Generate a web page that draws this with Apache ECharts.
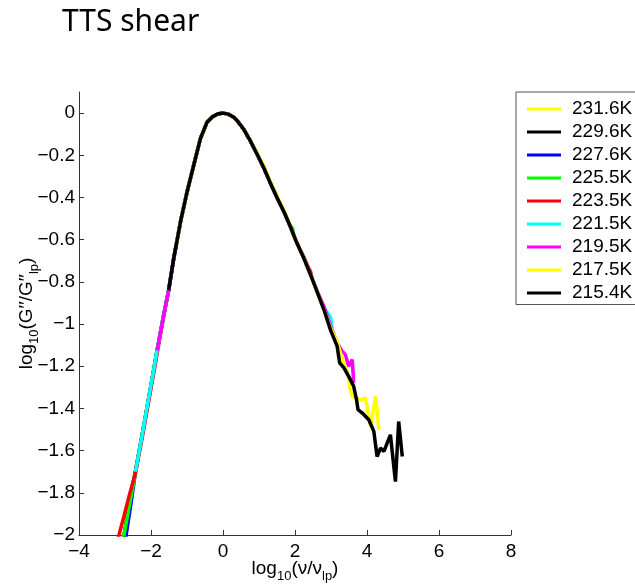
<!DOCTYPE html>
<html>
<head>
<meta charset="utf-8">
<script src="https://cdn.jsdelivr.net/npm/echarts@6/dist/echarts.min.js"></script>
<style>html,body{margin:0;padding:0;background:#fff;}#c{width:635px;height:584px;}</style>
</head>
<body>
<div id="c"></div>
<script>
// ---- data (x = log10(v/v_lp), y = log10(G''/G''_lp)) ----
const seriesNames = ['231.6K','229.6K','227.6K','225.5K','223.5K','221.5K','219.5K','217.5K','215.4K'];
const seriesColors = ['#ffff00','#000000','#0000ff','#00ff00','#ff0000','#00ffff','#ff00ff','#ffff00','#000000'];
const xTicks = [-4,-2,0,2,4,6,8];
const yTicks = [-2,-1.8,-1.6,-1.4,-1.2,-1,-0.8,-0.6,-0.4,-0.2,0];

const s231_6 = [[-3.3,-2.5],[-3.0,-2.22],[-2.75,-2.0],[-2.5,-1.76],[-2.25,-1.53],[-2.0,-1.29],[-1.83,-1.125],[-1.65,-0.96],[-1.51,-0.84],[-1.37,-0.69],[-1.18,-0.515],[-1.0,-0.375],[-0.81,-0.245],[-0.625,-0.12],[-0.44,-0.042],[-0.3,-0.018],[-0.15,-0.004],[0,0],[0.15,-0.005],[0.3,-0.02],[0.39,-0.035],[0.58,-0.078],[0.76,-0.132],[0.9,-0.18]];
const s229_6 = [[-3.2,-2.42],[-3.0,-2.22],[-2.75,-2.0],[-2.5,-1.76],[-2.25,-1.53],[-2.0,-1.29],[-1.83,-1.125],[-1.65,-0.96],[-1.51,-0.84],[-1.37,-0.69],[-1.18,-0.515],[-1.0,-0.375],[-0.81,-0.245],[-0.625,-0.12],[-0.44,-0.042],[-0.3,-0.018],[-0.15,-0.004],[0,0],[0.15,-0.005],[0.3,-0.02],[0.39,-0.035],[0.58,-0.078],[0.76,-0.132],[0.95,-0.195],[1.13,-0.258],[1.2,-0.285]];
const s227_6 = [[-2.85,-2.22],[-2.69,-2.0],[-2.6,-1.9],[-2.5,-1.785],[-2.43,-1.70],[-2.25,-1.53],[-2.0,-1.29],[-1.83,-1.125],[-1.65,-0.96],[-1.51,-0.84],[-1.37,-0.69],[-1.18,-0.515],[-1.0,-0.375],[-0.81,-0.245],[-0.625,-0.12],[-0.44,-0.042],[-0.3,-0.018],[-0.15,-0.004],[0,0],[0.15,-0.005],[0.3,-0.02],[0.39,-0.035],[0.58,-0.078],[0.76,-0.132],[0.95,-0.195],[1.13,-0.258],[1.3,-0.325],[1.5,-0.40],[1.6,-0.435]];
const s225_5 = [[-2.95,-2.2],[-2.75,-2.0],[-2.6,-1.86],[-2.5,-1.77],[-2.43,-1.70],[-2.25,-1.53],[-2.0,-1.29],[-1.83,-1.125],[-1.65,-0.96],[-1.51,-0.84],[-1.37,-0.69],[-1.18,-0.515],[-1.0,-0.375],[-0.81,-0.245],[-0.625,-0.12],[-0.44,-0.042],[-0.3,-0.018],[-0.15,-0.004],[0,0],[0.15,-0.005],[0.3,-0.02],[0.39,-0.035],[0.58,-0.078],[0.76,-0.132],[0.95,-0.195],[1.13,-0.258],[1.3,-0.325],[1.5,-0.40],[1.7,-0.47],[1.875,-0.535],[1.93,-0.545],[1.97,-0.58]];
const s223_5 = [[-3.05,-2.12],[-2.89,-2.0],[-2.75,-1.91],[-2.6,-1.81],[-2.43,-1.705],[-2.25,-1.545],[-2.0,-1.305],[-1.83,-1.14],[-1.65,-0.965],[-1.51,-0.84],[-1.37,-0.69],[-1.18,-0.515],[-1.0,-0.375],[-0.81,-0.245],[-0.625,-0.12],[-0.44,-0.042],[-0.3,-0.018],[-0.15,-0.004],[0,0],[0.15,-0.005],[0.3,-0.02],[0.39,-0.035],[0.58,-0.078],[0.76,-0.132],[0.95,-0.195],[1.13,-0.258],[1.3,-0.325],[1.5,-0.40],[1.7,-0.47],[1.875,-0.54],[2.05,-0.615],[2.24,-0.68],[2.38,-0.735],[2.43,-0.75],[2.48,-0.79]];
const s221_5 = [[-2.43,-1.70],[-2.25,-1.53],[-2.0,-1.29],[-1.83,-1.125],[-1.65,-0.96],[-1.51,-0.84],[-1.37,-0.69],[-1.18,-0.515],[-1.0,-0.375],[-0.81,-0.245],[-0.625,-0.12],[-0.44,-0.042],[-0.3,-0.018],[-0.15,-0.004],[0,0],[0.15,-0.005],[0.3,-0.02],[0.39,-0.035],[0.58,-0.078],[0.76,-0.132],[0.95,-0.195],[1.13,-0.258],[1.3,-0.325],[1.5,-0.40],[1.7,-0.47],[1.875,-0.54],[2.05,-0.615],[2.24,-0.686],[2.43,-0.765],[2.62,-0.85],[2.8,-0.925],[2.9,-0.945],[2.99,-0.97],[3.03,-1.02]];
const s219_5 = [[-1.83,-1.125],[-1.65,-0.96],[-1.51,-0.84],[-1.37,-0.69],[-1.18,-0.515],[-1.0,-0.375],[-0.81,-0.245],[-0.625,-0.12],[-0.44,-0.042],[-0.3,-0.018],[-0.15,-0.004],[0,0],[0.15,-0.005],[0.3,-0.02],[0.39,-0.035],[0.58,-0.078],[0.76,-0.132],[0.95,-0.195],[1.13,-0.258],[1.3,-0.325],[1.5,-0.40],[1.7,-0.47],[1.875,-0.54],[2.05,-0.615],[2.24,-0.686],[2.43,-0.765],[2.62,-0.845],[2.8,-0.915],[2.99,-1.01],[3.17,-1.09],[3.31,-1.129],[3.4,-1.145],[3.49,-1.2],[3.59,-1.169],[3.63,-1.279]];
const s217_5 = [[-1.3,-0.625],[-1.18,-0.515],[-1.0,-0.375],[-0.81,-0.245],[-0.625,-0.12],[-0.44,-0.042],[-0.3,-0.018],[-0.15,-0.004],[0,0],[0.15,-0.005],[0.3,-0.02],[0.39,-0.035],[0.58,-0.078],[0.76,-0.132],[0.95,-0.19],[1.13,-0.25],[1.3,-0.318],[1.5,-0.392],[1.7,-0.465],[1.875,-0.54],[2.05,-0.615],[2.24,-0.686],[2.43,-0.765],[2.62,-0.85],[2.8,-0.93],[2.99,-1.02],[3.17,-1.085],[3.36,-1.19],[3.49,-1.245],[3.52,-1.30],[3.59,-1.343],[3.82,-1.359],[3.96,-1.351],[4.1,-1.486],[4.24,-1.343],[4.33,-1.501]];
const s215_4 = [[-1.51,-0.84],[-1.37,-0.69],[-1.18,-0.515],[-1.0,-0.375],[-0.81,-0.245],[-0.625,-0.12],[-0.44,-0.042],[-0.3,-0.018],[-0.15,-0.004],[0,0],[0.15,-0.005],[0.3,-0.02],[0.39,-0.035],[0.58,-0.078],[0.76,-0.132],[0.95,-0.195],[1.13,-0.258],[1.3,-0.325],[1.5,-0.40],[1.7,-0.47],[1.875,-0.54],[2.05,-0.615],[2.24,-0.686],[2.43,-0.765],[2.62,-0.85],[2.8,-0.93],[2.99,-1.03],[3.17,-1.105],[3.24,-1.184],[3.36,-1.208],[3.49,-1.248],[3.63,-1.295],[3.71,-1.359],[3.75,-1.406],[3.87,-1.422],[4.05,-1.454],[4.19,-1.509],[4.28,-1.628],[4.375,-1.588],[4.47,-1.604],[4.65,-1.525],[4.79,-1.747],[4.88,-1.462],[4.98,-1.628]];

const seriesData = [s231_6, s229_6, s227_6, s225_5, s223_5, s221_5, s219_5, s217_5, s215_4];

const FONT = 'Liberation Sans';
const FS = 19;
const fmt = v => { const r = Math.round(v * 10) / 10; return r < 0 ? '\u2212' + String(-r) : String(r); };
const richName = {
  a: {fontFamily: FONT, fontSize: FS, lineHeight: 28, color: '#000'},
  s: {fontFamily: FONT, fontSize: 13, lineHeight: 13, verticalAlign: 'bottom', color: '#000'}
};

const chart = echarts.init(document.getElementById('c'), null, {renderer: 'canvas'});
chart.setOption({
  animation: false,
  backgroundColor: '#ffffff',
  title: {
    text: 'TTS shear', left: 62, top: 7, padding: 0,
    textStyle: {fontFamily: 'Noto Sans', fontSize: 30, fontWeight: 'normal', color: '#000'}
  },
  grid: {left: 79, right: 124, top: 92, bottom: 49, containLabel: false, outerBoundsMode: 'none'},
  legend: {
    orient: 'vertical', left: 516, top: 92,
    padding: [5.5, 12, 0, 11],
    itemGap: 0, itemWidth: 34, itemHeight: 3, icon: 'rect',
    borderColor: '#555', borderWidth: 1, backgroundColor: '#fff',
    selectedMode: false,
    data: seriesNames,
    textStyle: {fontFamily: FONT, fontSize: FS, color: '#000', lineHeight: 23, padding: [0, 0, 0, 6]}
  },
  xAxis: {
    type: 'value', min: -4, max: 8, interval: 2,
    name: '{a|log}{s|10}{a|(\u03bd/\u03bd}{s|lp}{a|)}',
    nameLocation: 'middle', nameGap: 20, nameMoveOverlap: false,
    nameTextStyle: {rich: richName},
    axisLine: {show: true, onZero: false, lineStyle: {color: '#333', width: 1}},
    axisTick: {show: true, inside: true, length: 5, lineStyle: {color: '#333'}, customValues: xTicks},
    axisLabel: {fontFamily: FONT, fontSize: FS, color: '#000', margin: 7, formatter: fmt, customValues: xTicks, hideOverlap: false},
    splitLine: {show: false}
  },
  yAxis: {
    type: 'value', min: -2, max: 0.1, interval: 0.2,
    name: '{a|log}{s|10}{a|(G\u2032\u2032/G\u2032\u2032}{s|lp}{a|)}',
    nameLocation: 'middle', nameGap: 38, nameRotate: 90, nameMoveOverlap: false,
    nameTextStyle: {rich: richName},
    axisLine: {show: true, onZero: false, lineStyle: {color: '#333', width: 1}},
    axisTick: {show: true, inside: true, length: 5, lineStyle: {color: '#333'}, customValues: yTicks},
    axisLabel: {fontFamily: FONT, fontSize: FS, color: '#000', margin: 4, formatter: fmt, customValues: yTicks, hideOverlap: false},
    splitLine: {show: false}
  },
  series: seriesNames.map((n, i) => ({
    name: n, type: 'line', data: seriesData[i],
    symbol: 'none', showSymbol: false, clip: true, smooth: false,
    color: seriesColors[i],
    lineStyle: {color: seriesColors[i], width: 3.5},
    z: 2 + i
  }))
});
</script>
</body>
</html>
